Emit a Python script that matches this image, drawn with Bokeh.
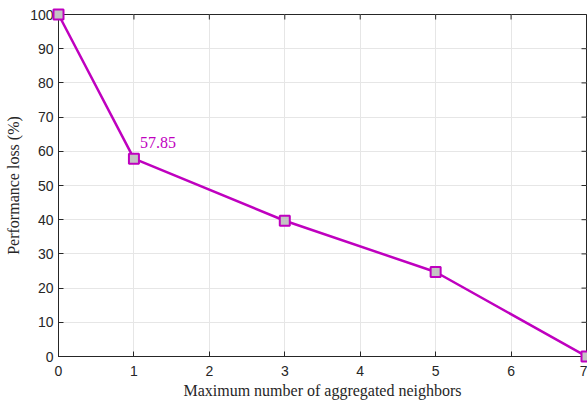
import math
from bokeh.plotting import figure
from bokeh.models import Range1d, Label, FixedTicker
from bokeh.embed import file_html
from bokeh.resources import INLINE

# data
neighbors = [0, 1, 3, 5, 7]
loss = [100, 57.85, 39.7, 24.7, 0]
x_ticks = [0, 1, 2, 3, 4, 5, 6, 7]
y_ticks = [0, 10, 20, 30, 40, 50, 60, 70, 80, 90, 100]

MAG = "#BF00BF"
AX = "#262626"

p = figure(width=587, height=403, output_backend="svg", toolbar_location=None,
           x_range=Range1d(x_ticks[0], x_ticks[-1]), y_range=Range1d(y_ticks[0], y_ticks[-1]),
           min_border_left=58, min_border_right=1, min_border_top=14, min_border_bottom=47)
p.outline_line_color = AX
p.outline_line_width = 1

for ax in (p.xaxis[0], p.yaxis[0]):
    ax.major_tick_in = 5
    ax.major_tick_out = 0
    ax.minor_tick_line_color = None
    ax.axis_line_color = AX
    ax.major_tick_line_color = AX
    ax.major_label_text_font = "Liberation Sans"
    ax.major_label_text_font_size = "14px"
    ax.major_label_text_color = AX
    ax.axis_label_text_font = "Liberation Serif"
    ax.axis_label_text_font_size = "16px"
    ax.axis_label_text_font_style = "normal"
    ax.axis_label_text_color = AX

p.xaxis.ticker = FixedTicker(ticks=x_ticks)
p.yaxis.ticker = FixedTicker(ticks=y_ticks)
p.xaxis.axis_label = "Maximum number of aggregated neighbors"
p.yaxis.axis_label = "Performance loss (%)"
p.xaxis.major_label_standoff = 9
p.xaxis.axis_label_standoff = 3
p.yaxis.major_label_standoff = 5
p.yaxis.axis_label_standoff = 5

p.xgrid.ticker = FixedTicker(ticks=x_ticks)
p.ygrid.ticker = FixedTicker(ticks=y_ticks)
p.grid.grid_line_color = "#E6E6E6"
p.grid.grid_line_width = 1

# mirrored inward ticks on top and right edges (half of each dash is clipped by the frame)
p.scatter(x_ticks, [y_ticks[-1]] * len(x_ticks), marker="dash", size=10,
          angle=math.pi / 2, line_color=AX, line_width=1)
p.scatter([x_ticks[-1]] * len(y_ticks), y_ticks, marker="dash", size=10,
          line_color=AX, line_width=1)

p.line(neighbors, loss, line_color=MAG, line_width=2.5, level="overlay")
p.scatter(neighbors, loss, marker="square", size=10, fill_color="#C4C4C4", fill_alpha=1.0,
          line_color=MAG, line_width=2, level="overlay")

lab = Label(x=neighbors[1], y=loss[1], text=f"{loss[1]:.2f}", x_offset=6, y_offset=11,
            text_font="Liberation Serif", text_font_size="16px", text_color=MAG)
p.add_layout(lab)

open("out.html", "w").write(file_html(p, INLINE))
